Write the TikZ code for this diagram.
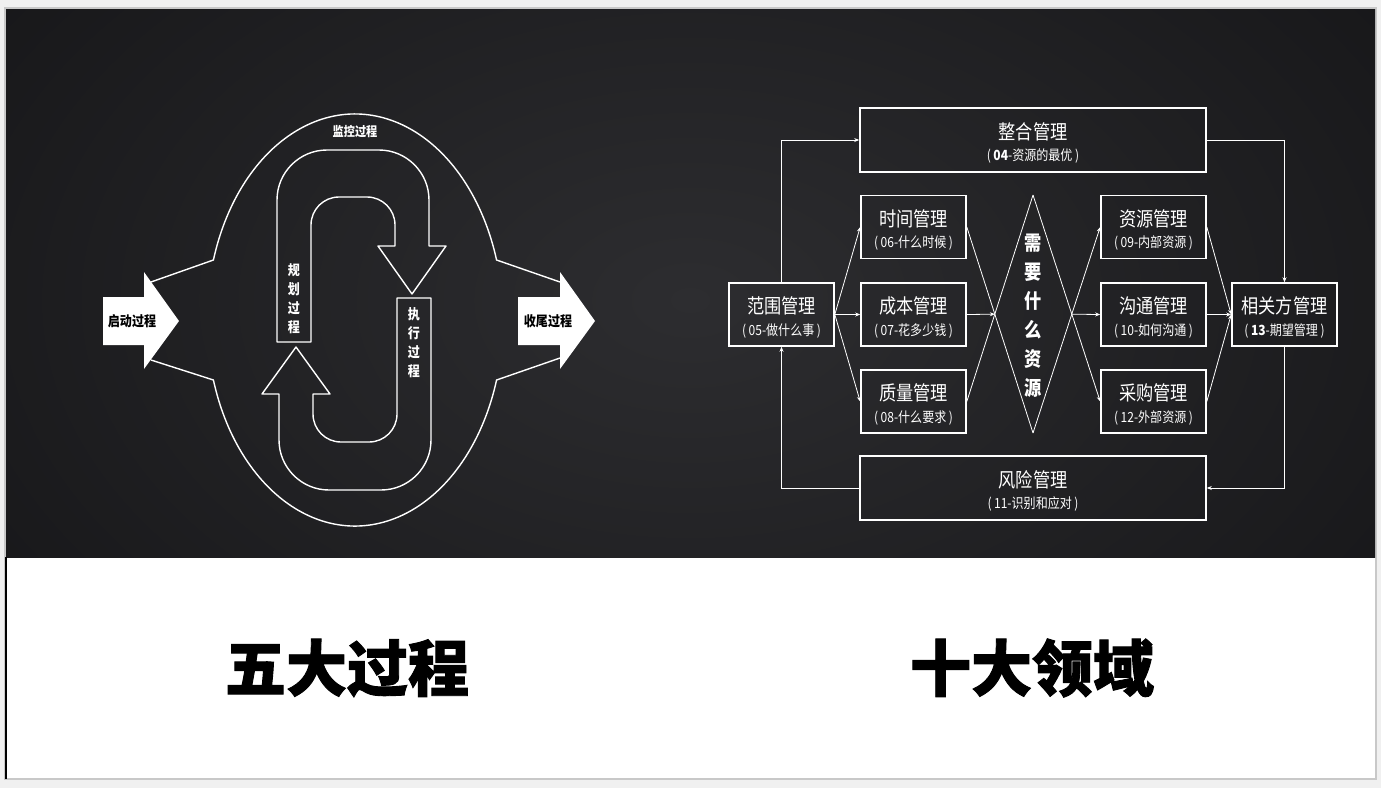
\documentclass[tikz,border=0pt]{standalone}
\usepackage{fontspec}
\setmainfont{Noto Sans CJK SC}
\newfontfamily\narrowcjk[FakeStretch=0.86]{Noto Sans CJK SC}
\newfontfamily\titlecjk[BoldFeatures={FakeBold=1.5}]{Noto Sans CJK SC}
\usepackage{xcolor}
\definecolor{slide-page}{HTML}{F0F0F0}
\definecolor{slide-edge}{HTML}{C8C8C8}
\definecolor{slide-dark}{HTML}{111113}
\definecolor{slide-glow}{HTML}{2D2D30}
\usetikzlibrary{arrows.meta}

\tikzset{
    mbox/.style={draw=white, line width=1.6pt, minimum width=105pt, minimum height=63pt,
        inner sep=0pt, align=center, text=white, font=\narrowcjk\fontsize{14}{21.7}\selectfont},
    widebox/.style={mbox, minimum width=346pt, minimum height=64pt},
    link/.style={draw=white, line width=0.8pt, -{Stealth[length=5pt, width=4pt]}},
    bare/.style={draw=white, line width=0.8pt},
    loopline/.style={draw=white, line width=1.4pt, line join=round},
    uptext/.style={text=white, align=center, inner sep=0pt, font=\narrowcjk\bfseries\fontsize{14}{19}\selectfont},
}
\newcommand{\boxtext}[2]{{\fontsize{20}{24}\selectfont\rule{0pt}{22.6pt}#1}\\{(\hspace{2.5pt}#2\hspace{2.5pt})}}

\begin{document}
\begin{tikzpicture}[x=1pt, y=-1pt]

    \useasboundingbox (0, 0) rectangle (1381, 788);

    % Background
    \fill[slide-page] (0, 0) rectangle (1381, 788);
    \filldraw[fill=white, draw=slide-edge, line width=1.5pt] (5, 8) rectangle (1376, 779);
    \begin{scope}
        \clip (6, 9) rectangle (1375, 557);
        \fill[slide-dark] (6, 9) rectangle (1375, 557);
        \shade[inner color=slide-glow, outer color=slide-dark] (690, 300) ellipse [x radius=1100pt, y radius=700pt];
    \end{scope}
    \draw[black, line width=1.5pt] (6, 557) -- (6, 779);

    % Five processes: side arrows
    \fill[white] (103, 297) -- (144, 297) -- (144, 272) -- (179, 321) -- (144, 369) -- (144, 345) -- (103, 345) -- cycle;
    \fill[white] (518, 297) -- (560, 297) -- (560, 272) -- (595, 321) -- (560, 369) -- (560, 345) -- (518, 345) -- cycle;
    \node[font=\narrowcjk\bfseries\fontsize{14}{14}\selectfont, text=black] (start) at (132, 321) {启动过程};
    \node[font=\narrowcjk\bfseries\fontsize{14}{14}\selectfont, text=black] (close) at (548, 321) {收尾过程};

    % Five processes: monitoring outline
    \draw[loopline] (151, 282) -- (213.4, 260)
        arc [start angle=163.07, end angle=16.93, x radius=148pt, y radius=206pt] -- (560, 282);
    \draw[loopline] (151, 360) -- (213.4, 380)
        arc [start angle=196.93, end angle=343.07, x radius=148pt, y radius=206pt] -- (560, 358);
    \node[uptext, font=\narrowcjk\bfseries\fontsize{13}{13}\selectfont] (monitor) at (355, 132) {监控过程};

    % Five processes: upper hook
    \draw[loopline] (277, 342) -- (277, 200) .. controls (277, 172.4) and (299.4, 150) .. (327, 150)
        -- (379, 150) .. controls (406.6, 150) and (429, 172.4) .. (429, 200)
        -- (429, 246) -- (446, 246) -- (412, 294) -- (378, 246) -- (395, 246)
        -- (395, 225) .. controls (395, 209.5) and (382.5, 197) .. (367, 197)
        -- (339, 197) .. controls (323.5, 197) and (311, 209.5) .. (311, 225)
        -- (311, 342) -- cycle;

    % Five processes: lower hook
    \draw[loopline] (397, 298) -- (397, 414) .. controls (397, 429.5) and (384.5, 442) .. (369, 442)
        -- (341, 442) .. controls (325.5, 442) and (313, 429.5) .. (313, 414)
        -- (313, 394) -- (330, 394) -- (296, 347) -- (262, 394) -- (279, 394)
        -- (279, 440) .. controls (279, 467.6) and (301.4, 490) .. (329, 490)
        -- (381, 490) .. controls (408.6, 490) and (431, 467.6) .. (431, 440)
        -- (431, 298) -- cycle;
    \node[uptext] (plan) at (294, 298.5) {规\\划\\过\\程};
    \node[uptext] (exec) at (414, 342.5) {执\\行\\过\\程};

    % Ten areas: boxes
    \node[mbox] (fw) at (781.5, 314.5) {\boxtext{范围管理}{05-做什么事}};
    \node[mbox] (sj) at (913.5, 227) {\boxtext{时间管理}{06-什么时候}};
    \node[mbox] (cb) at (913.5, 314.5) {\boxtext{成本管理}{07-花多少钱}};
    \node[mbox] (zl) at (913.5, 401.5) {\boxtext{质量管理}{08-什么要求}};
    \node[mbox] (zy) at (1153.5, 227) {\boxtext{资源管理}{09-内部资源}};
    \node[mbox] (gt) at (1153.5, 314.5) {\boxtext{沟通管理}{10-如何沟通}};
    \node[mbox] (cg) at (1153.5, 401.5) {\boxtext{采购管理}{12-外部资源}};
    \node[mbox] (xgf) at (1284.5, 314.5) {\boxtext{相关方管理}{{\bfseries 13}-期望管理}};
    \node[widebox] (zh) at (1033, 140) {\boxtext{整合管理}{{\bfseries 04}-资源的最优}};
    \node[widebox] (fx) at (1033, 488) {\boxtext{风险管理}{11-识别和应对}};

    % Ten areas: diamond
    \coordinate (dtop) at (1033, 195);
    \coordinate (dbot) at (1033, 433);
    \node[uptext, font=\narrowcjk\bfseries\fontsize{20}{29}\selectfont] (need) at (1033, 315.5) {需\\要\\什\\么\\资\\源};
    \draw[bare] (sj.east) -- (dbot);
    \draw[bare] (zl.east) -- (dtop);
    \coordinate (xl) at (intersection of sj.east--dbot and zl.east--dtop);
    \draw[link] (dtop) -- (cg.west);
    \draw[link] (dbot) -- (zy.west);
    \coordinate (xr) at (intersection of dtop--cg.west and dbot--zy.west);

    % Ten areas: connectors
    \draw[link] (fw.east) -- (sj.west);
    \draw[link] (fw.east) -- (cb.west);
    \draw[link] (fw.east) -- (zl.west);
    \draw[link] (cb.east) -- (xl);
    \draw[link] (xr) -- (gt.west);
    \draw[link] (zy.east) -- (xgf.west);
    \draw[link] (gt.east) -- (xgf.west);
    \draw[link] (cg.east) -- (xgf.west);
    \draw[link] (fw.north) |- (zh.west);
    \draw[link] (zh.east) -| (xgf.north);
    \draw[link] (xgf.south) |- (fx.east);
    \draw[link] (fx.west) -| (fw.south);

    % Titles
    \node[font=\titlecjk\bfseries\fontsize{61}{61}\selectfont] (five) at (347, 668) {五大过程};
    \node[font=\titlecjk\bfseries\fontsize{61}{61}\selectfont] (ten) at (1032, 668) {十大领域};

\end{tikzpicture}
\end{document}
